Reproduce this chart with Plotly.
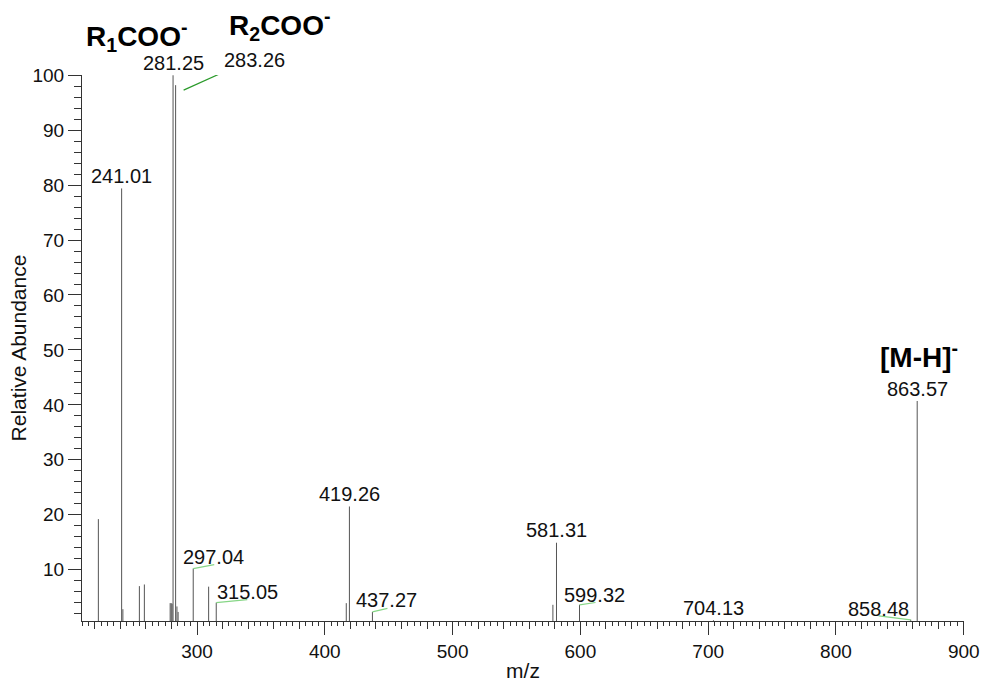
import plotly.graph_objects as go

# Centroided product-ion peaks (m/z, relative abundance %)
mz = [222.8, 241.01, 242.0, 254.9, 258.8, 279.0, 279.8, 280.5, 281.25, 283.26,
      284.3, 285.2, 297.04, 309.1, 315.05, 416.8, 419.26, 437.27, 578.5, 581.31,
      599.32, 704.13, 858.48, 863.57]
abundance = [19.2, 79.4, 2.8, 7.0, 7.3, 3.9, 3.9, 3.8, 100.0, 98.2,
             3.3, 2.3, 10.2, 6.9, 4.0, 3.9, 21.5, 2.3, 3.6, 14.9,
             3.6, 0.8, 0.9, 40.7]

# Peaks carrying an m/z label
labeled_mz = [241.01, 281.25, 283.26, 297.04, 315.05, 419.26, 437.27,
              581.31, 599.32, 704.13, 858.48, 863.57]

# Ion assignments
ion_names = ["R<sub>1</sub>COO<sup>-</sup>", "R<sub>2</sub>COO<sup>-</sup>",
             "[M-H]<sup>-</sup>"]
ion_mz = [281.25, 283.26, 863.57]

x_ticks = [300, 400, 500, 600, 700, 800, 900]
y_ticks = [10, 20, 30, 40, 50, 60, 70, 80, 90, 100]

# Label placement (pixel offsets from the peak tip, y up)
label_shift = {
    241.01: (0, 12), 281.25: (0, 12), 283.26: (79, 25), 297.04: (20, 12),
    315.05: (31, 11), 419.26: (0, 12), 437.27: (14, 12), 581.31: (0, 13),
    599.32: (15, 10), 704.13: (0, 12), 858.48: (-32, 11), 863.57: (0, 12),
}
# Leader lines joining displaced labels to their peaks (pixel offsets)
leader = {
    283.26: ((8, -5), (50, 14), "#2a9a2a"),
    297.04: ((0, 0), (21, 4), "#86d686"),
    315.05: ((0, 0), (31, 3), "#86d686"),
    437.27: ((0, 0), (15, 3.5), "#86d686"),
    599.32: ((0, 0), (16, 2.3), "#86d686"),
    858.48: ((-32, 3.7), (0, -0.3), "#86d686"),
}
ion_shift = {281.25: (-37, 39), 283.26: (104, 60), 863.57: (2, 46)}

FONT = "Arial, Liberation Sans, Helvetica, sans-serif"
AXIS = "#333333"

height_of = dict(zip(mz, abundance))

# Stick spectrum: one vertical segment per peak
sx, sy = [], []
for m, a in zip(mz, abundance):
    sx += [m, m, None]
    sy += [0, a, None]

fig = go.Figure()
fig.add_trace(go.Scatter(x=sx, y=sy, mode="lines",
                         line=dict(color="#555555", width=1),
                         hoverinfo="skip", showlegend=False))
# carrier for the fine-tick axis
fig.add_trace(go.Scatter(x=[], y=[], xaxis="x2", yaxis="y", showlegend=False))

annotations = []
for m in labeled_mz:
    dx, dy = label_shift[m]
    annotations.append(dict(
        x=m, y=height_of[m], xref="x", yref="y", text=f"{m:.2f}",
        showarrow=False, xanchor="center", yanchor="middle",
        xshift=dx, yshift=dy, font=dict(family=FONT, size=20, color="#111111")))

for name, m in zip(ion_names, ion_mz):
    dx, dy = ion_shift[m]
    annotations.append(dict(
        x=m, y=height_of[m], xref="x", yref="y", text=f"<b>{name}</b>",
        showarrow=False, xanchor="center", yanchor="middle",
        xshift=dx, yshift=dy, font=dict(family=FONT, size=28, color="#000000")))

shapes = []
for m, ((x0, y0), (x1, y1), col) in leader.items():
    shapes.append(dict(
        type="line", xref="x", yref="y", xsizemode="pixel", ysizemode="pixel",
        xanchor=m, yanchor=height_of[m], x0=x0, y0=y0, x1=x1, y1=y1,
        line=dict(color=col, width=1.2)))

fig.update_layout(
    width=982, height=682,
    margin=dict(l=82, r=18, t=75, b=61, autoexpand=False),
    paper_bgcolor="white", plot_bgcolor="white",
    font=dict(family=FONT, color="#111111"),
    annotations=annotations, shapes=shapes,
    xaxis=dict(
        range=[210, 900.2], tickvals=x_ticks, ticks="outside", ticklen=13,
        tickwidth=1, tickcolor=AXIS, showline=True, linecolor=AXIS, linewidth=1,
        showgrid=False, zeroline=False, automargin=False,
        tickfont=dict(family=FONT, size=19, color="#111111"),
        minor=dict(dtick=20, tick0=0, ticks="outside", ticklen=7,
                   tickcolor=AXIS, tickwidth=1, showgrid=False),
        title=dict(text="m/z", standoff=3,
                   font=dict(family=FONT, size=21, color="#111111")),
    ),
    xaxis2=dict(
        overlaying="x", anchor="y", side="bottom", range=[210, 900.2],
        tick0=0, dtick=5, ticks="outside", ticklen=4, tickwidth=1,
        tickcolor=AXIS, showticklabels=False, showline=False,
        showgrid=False, zeroline=False,
    ),
    yaxis=dict(
        range=[0.65, 100.05], tickvals=y_ticks, ticks="outside", ticklen=13,
        tickwidth=1, tickcolor=AXIS, showline=True, linecolor=AXIS, linewidth=1,
        showgrid=False, zeroline=False, automargin=False,
        tickfont=dict(family=FONT, size=19, color="#111111"),
        minor=dict(dtick=2, tick0=0, ticks="outside", ticklen=7,
                   tickcolor=AXIS, tickwidth=1, showgrid=False),
        title=dict(text="Relative Abundance", standoff=0,
                   font=dict(family=FONT, size=21, color="#111111")),
    ),
)

fig.write_html("out.html")
